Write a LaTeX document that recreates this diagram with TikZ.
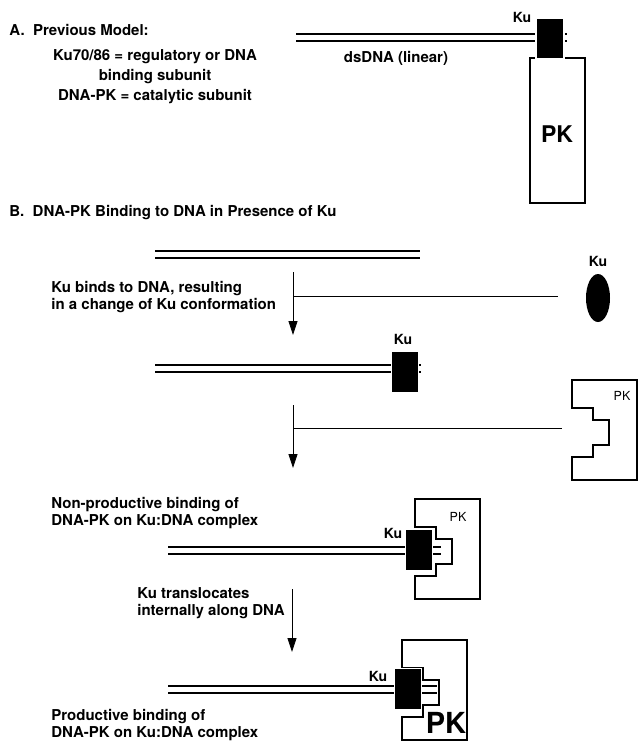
\documentclass[tikz,border=0pt]{standalone}
\usepackage{fontspec}
\setmainfont{TeX Gyre Heros}
\usetikzlibrary{arrows.meta,shapes.geometric,positioning}

\begin{document}
\begin{tikzpicture}[x=1pt, y=-1pt, thick]
	% Define styles
	\tikzstyle{every node}=[inner sep=0pt, font=\fontsize{15}{17}\selectfont\bfseries]
	\tikzstyle{dna}=[line width=2pt]
	\tikzstyle{kubox}=[rectangle, fill=black, draw=white, line width=1.5pt, minimum width=27pt, minimum height=42pt]
	\tikzstyle{pkline}=[line width=2.2pt, fill=white]
	\tikzstyle{flow}=[line width=0.8pt, -{Triangle[length=14pt,width=9pt]}]
	\tikzstyle{feed}=[line width=0.8pt]
	\tikzstyle{kutext}=[font=\fontsize{14}{16}\selectfont\bfseries]
	\tikzstyle{pktext}=[font=\fontsize{12.5}{14}\selectfont]
	\tikzstyle{note}=[anchor=west, align=left]
	
	\useasboundingbox (0,0) rectangle (638,742);
	
	% A. previous model
	\node[note] (titleA) at (9,30) {A.\ \ Previous Model:};
	\node[align=center, font=\fontsize{15}{20}\selectfont\bfseries] (defs) at (155,77) {Ku70/86 = regulatory or DNA\\binding subunit\\DNA-PK = catalytic subunit};
	
	\draw[dna] (296,34) -- (567,34);
	\draw[dna] (296,41) -- (567,41);
	\node[draw, line width=2.2pt, fill=white, minimum width=55pt, minimum height=145pt] (pkA) at (557.5,130.5) {};
	\node[kubox, minimum width=28pt, minimum height=41pt] (kuA) at (550,38.5) {};
	\node[kutext] (kuAlab) at (522,17) {Ku};
	\node[font=\fontsize{23}{25}\selectfont\bfseries] (pkAlab) at (557,134) {PK};
	\node (dsdna) at (396,58) {dsDNA (linear)};
	
	% B. binding in presence of Ku
	\node[note] (titleB) at (9,213) {B.\ \ DNA-PK Binding to DNA in Presence of Ku};
	
	% free DNA
	\draw[dna] (155,251) -- (420,251);
	\draw[dna] (155,258) -- (420,258);
	
	% step 1
	\node[ellipse, fill=black, minimum width=24pt, minimum height=48pt] (kufree) at (598,298) {};
	\node[kutext] (kufreelab) at (598,261) {Ku};
	\coordinate (a1top) at (293,272);
	\coordinate (a1tip) at (293,335);
	\coordinate (a1mid) at (293,296);
	\draw[flow] (a1top) -- (a1tip);
	\draw[feed, shorten >=28pt] (a1mid) -- (a1mid -| kufree.west);
	\node[note] (step1) at (51,297) {Ku binds to DNA, resulting\\in a change of Ku conformation};
	
	\draw[dna] (155,365) -- (421,365);
	\draw[dna] (155,372) -- (421,372);
	\node[kubox] (ku2) at (405,372) {};
	\node[kutext] (ku2lab) at (403,339) {Ku};
	
	% step 2
	\begin{scope}[shift={(572,380)}]
		\draw[pkline] (0,0) -- (65,0) -- (65,100) -- (0,100) -- (0,77) -- (21,77) -- (21,65) -- (37,65) -- (37,40) -- (21,40) -- (21,28) -- (0,28) -- cycle;
		\node[pktext] (pkfree) at (50,16) {PK};
		\coordinate (pkfreeside) at (0,48);
	\end{scope}
	\coordinate (a2top) at (293,405);
	\coordinate (a2tip) at (293,468);
	\coordinate (a2mid) at (293,428);
	\draw[flow] (a2top) -- (a2tip);
	\draw[feed, shorten >=10pt] (a2mid) -- (a2mid -| pkfreeside);
	
	% non-productive complex
	\node[note] (step2) at (51,513) {Non-productive binding of\\DNA-PK on Ku:DNA complex};
	\begin{scope}[shift={(415,499)}]
		\draw[pkline] (0,0) -- (65,0) -- (65,100) -- (0,100) -- (0,77) -- (21,77) -- (21,65) -- (37,65) -- (37,40) -- (21,40) -- (21,28) -- (0,28) -- cycle;
		\node[pktext] (pk3) at (43,18) {PK};
	\end{scope}
	\draw[dna] (168,547) -- (441,547);
	\draw[dna] (168,554) -- (441,554);
	\node[kubox] (ku3) at (419,550) {};
	\node[kutext] (ku3lab) at (393,533) {Ku};
	
	% step 3
	\node[note] (step3) at (137,603) {Ku translocates\\internally along DNA};
	\coordinate (a3top) at (292,589);
	\coordinate (a3tip) at (292,652);
	\draw[flow] (a3top) -- (a3tip);
	
	% productive complex
	\begin{scope}[shift={(402,640)}]
		\draw[pkline] (0,0) -- (65,0) -- (65,100) -- (0,100) -- (0,77) -- (21,77) -- (21,65) -- (37,65) -- (37,40) -- (21,40) -- (21,28) -- (0,28) -- cycle;
		\node[font=\fontsize{29}{31}\selectfont\bfseries] (pk4) at (44,83) {PK};
	\end{scope}
	\draw[dna] (168,686) -- (437,686);
	\draw[dna] (168,693) -- (437,693);
	\node[kubox, minimum height=41pt] (ku4) at (408,689) {};
	\node[kutext] (ku4lab) at (378,676) {Ku};
	\node[note] (step4) at (51,725) {Productive binding of\\DNA-PK on Ku:DNA complex};
	
\end{tikzpicture}
\end{document}
